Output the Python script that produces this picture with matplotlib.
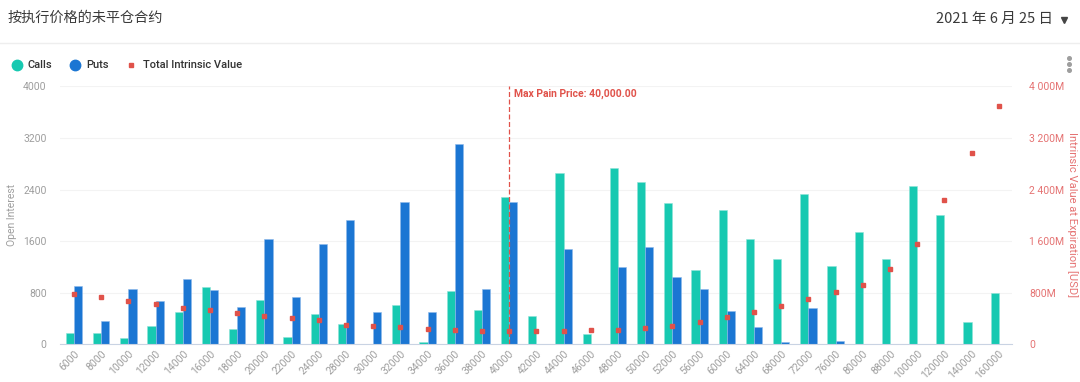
import numpy as np
import matplotlib.pyplot as plt
from matplotlib.lines import Line2D
from matplotlib.ticker import FuncFormatter

plt.rcParams['font.family'] = ['Roboto', 'Noto Sans CJK SC', 'DejaVu Sans']

# strike prices (categories)
strikes = ['6000', '8000', '10000', '12000', '14000', '16000', '18000', '20000',
           '22000', '24000', '28000', '30000', '32000', '34000', '36000', '38000',
           '40000', '42000', '44000', '46000', '48000', '50000', '52000', '56000',
           '60000', '64000', '68000', '72000', '76000', '80000', '88000', '100000',
           '120000', '140000', '160000']

# open interest
calls = [181, 181, 103, 279, 495, 888, 237, 686, 114, 465, 315, 0, 604, 41, 821, 526,
         2281, 439, 2663, 155, 2730, 2514, 2183, 1151, 2075, 1626, 1326, 2323, 1218,
         1734, 1326, 2457, 1997, 346, 795]
puts = [903, 361, 862, 671, 1012, 836, 578, 1626, 728, 1548, 1925, 495, 2199, 495, 3112,
        852, 2199, 0, 1476, 0, 1203, 1507, 1043, 852, 511, 263, 31, 563, 57,
        0, 0, 0, 0, 0, 0]

# total intrinsic value, millions USD
intrinsic = [785, 728, 676, 619, 563, 526, 485, 444, 403, 377, 305, 279, 263, 237, 227,
             212, 212, 212, 212, 227, 227, 253, 279, 351, 418, 495, 594, 702, 805,
             919, 1166, 1548, 2240, 2968, 3701]

max_pain_idx = strikes.index('40000')

CALL_C = '#17c9b1'
PUT_C = '#1b76d3'
RED = '#e0524a'
GRAY = '#9e9e9e'

W, H = 1080, 382
fig = plt.figure(figsize=(W / 100, H / 100), dpi=100, facecolor='white')

# header
fig.text(8 / W, 1 - 18 / H, '按执行价格的未平仓合约', fontsize=10.2, color='#3a3a3a',
         family=['Noto Sans CJK SC', 'DejaVu Sans'], va='center', ha='left')
fig.text(1053 / W, 1 - 19 / H, '2021 年 6 月 25 日', fontsize=10.5, color='#3a3a3a',
         family=['Noto Sans CJK SC', 'DejaVu Sans'], va='center', ha='right')
fig.add_artist(Line2D([1064 / W], [1 - 20 / H], transform=fig.transFigure,
                      marker='v', ms=5, color='#444444', ls='none'))
fig.add_artist(Line2D([0, 1], [1 - 43 / H] * 2, transform=fig.transFigure,
                      color='#eeeeee', lw=1))

# legend
leg_y = 1 - 65 / H
fig.add_artist(Line2D([17 / W], [leg_y], transform=fig.transFigure, marker='o', ms=7.5,
                      color=CALL_C, ls='none'))
fig.text(28 / W, leg_y, 'Calls', fontsize=8, color='#333333', va='center', weight='medium')
fig.add_artist(Line2D([75 / W], [leg_y], transform=fig.transFigure, marker='o', ms=7.5,
                      color=PUT_C, ls='none'))
fig.text(86 / W, leg_y, 'Puts', fontsize=8, color='#333333', va='center', weight='medium')
fig.add_artist(Line2D([131 / W], [leg_y], transform=fig.transFigure, marker='s', ms=2.8,
                      color=RED, ls='none'))
fig.text(143 / W, leg_y, 'Total Intrinsic Value', fontsize=8, color='#333333',
         va='center', weight='medium')

# more-options dots
for yy in (58, 64, 70):
    fig.add_artist(Line2D([1069 / W], [1 - yy / H], transform=fig.transFigure,
                          marker='o', ms=2.6, color=GRAY, ls='none'))

# main axes
ax = fig.add_axes([60.4 / W, (H - 344.3) / H, 952 / W, 258 / H])
x = np.arange(len(strikes))
bw = 0.3
ax.bar(x - bw / 2, calls, bw, color=CALL_C, edgecolor='#8fe3d8', linewidth=0.4, zorder=2)
ax.bar(x + bw / 2, puts, bw, color=PUT_C, edgecolor='#8fb9ea', linewidth=0.4, zorder=2)

ax.set_xlim(-0.5, len(strikes) - 0.5)
ax.set_ylim(0, 4000)
ax.set_yticks(np.arange(0, 4001, 800))
ax.grid(axis='y', color='#f3f3f3', lw=0.8, zorder=0)
ax.set_axisbelow(True)
for s in ('top', 'right', 'left'):
    ax.spines[s].set_visible(False)
ax.spines['bottom'].set_color('#c9d3e3')
ax.tick_params(axis='y', length=0, pad=10, labelcolor=GRAY, labelsize=7.5)
ax.tick_params(axis='x', length=0, pad=3, labelcolor=GRAY, labelsize=7.5)
ax.set_xticks(x)
ax.set_xticklabels(strikes, rotation=45, ha='right', va='top', rotation_mode='anchor')

# max pain marker
ax.axvline(max_pain_idx, color=RED, ls=(0, (4, 2)), lw=0.9, zorder=3)
ax.text(max_pain_idx + 0.18, 3960, 'Max Pain Price: 40,000.00', color=RED, fontsize=7.5,
        weight='bold', va='top', ha='left')

# intrinsic value axis
ax2 = ax.twinx()
ax2.set_ylim(0, 4000)
ax2.set_yticks(np.arange(0, 4001, 800))
ax2.yaxis.set_major_formatter(FuncFormatter(
    lambda v, p: '0' if v == 0 else '{:,.0f}M'.format(v).replace(',', ' ')))
ax2.plot(x, intrinsic, 's', ms=2.8, color=RED, zorder=4)
for s in ax2.spines.values():
    s.set_visible(False)
ax2.tick_params(axis='y', length=0, pad=12, labelcolor='#e57373', labelsize=7.5)

fig.text(12 / W, 1 - 215 / H, 'Open Interest', rotation=90, fontsize=7.5, color=GRAY,
         va='center', ha='center')
fig.text(1072 / W, 1 - 215 / H, 'Intrinsic Value at Expiration [USD]', rotation=270,
         fontsize=8, color='#e57373', va='center', ha='center')

fig.savefig('out.png', dpi=100, facecolor='white')
